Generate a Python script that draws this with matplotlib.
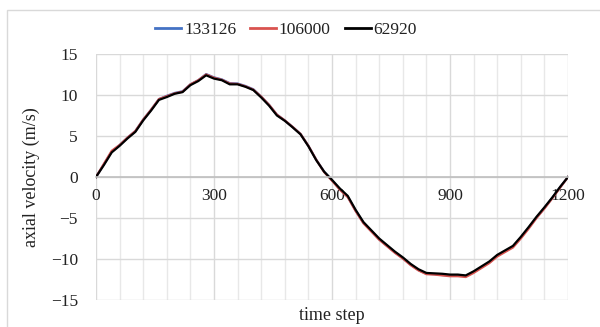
import matplotlib
matplotlib.use("Agg")
import matplotlib.pyplot as plt
from matplotlib.patches import Rectangle
from matplotlib.ticker import MultipleLocator

time_step = list(range(0, 1201, 20))

v_62920 = [0, 1.45, 3.0, 3.8, 4.7, 5.5, 6.9, 8.1, 9.4, 9.75,
           10.15, 10.35, 11.2, 11.7, 12.4, 12.0, 11.8, 11.3, 11.3, 11.0,
           10.6, 9.7, 8.7, 7.5, 6.85, 6.05, 5.2, 3.75, 2.05, 0.65,
           -0.35, -1.4, -2.3, -4.0, -5.5, -6.5, -7.5, -8.3, -9.1, -9.8,
           -10.6, -11.25, -11.7, -11.75, -11.8, -11.9, -11.9, -12.0, -11.5, -10.9,
           -10.3, -9.5, -8.95, -8.4, -7.3, -6.1, -4.85, -3.7, -2.5, -1.2, 0]

v_106000 = [0, 1.6, 3.2, 3.9, 4.8, 5.6, 7.0, 8.2, 9.5, 9.85,
            10.2, 10.4, 11.3, 11.8, 12.5, 12.1, 11.85, 11.4, 11.35, 11.05,
            10.65, 9.8, 8.8, 7.6, 6.9, 6.1, 5.25, 3.8, 2.1, 0.6,
            -0.45, -1.55, -2.45, -4.15, -5.65, -6.65, -7.65, -8.45, -9.25, -9.95,
            -10.75, -11.4, -11.85, -11.9, -12.0, -12.1, -12.1, -12.2, -11.7, -11.1,
            -10.5, -9.7, -9.15, -8.6, -7.5, -6.3, -5.0, -3.85, -2.6, -1.3, 0]

v_133126 = [0, 1.55, 3.1, 3.9, 4.8, 5.6, 7.0, 8.2, 9.5, 9.9,
            10.25, 10.45, 11.3, 11.8, 12.55, 12.15, 11.9, 11.45, 11.4, 11.1,
            10.7, 9.8, 8.8, 7.6, 6.9, 6.1, 5.25, 3.8, 2.1, 0.65,
            -0.4, -1.5, -2.4, -4.1, -5.6, -6.6, -7.6, -8.4, -9.2, -9.9,
            -10.7, -11.35, -11.8, -11.85, -11.95, -12.0, -12.0, -12.1, -11.6, -11.0,
            -10.4, -9.6, -9.05, -8.5, -7.4, -6.2, -4.95, -3.8, -2.55, -1.25, 0]

series_labels = ["133126", "106000", "62920"]
x_ticks = [0, 300, 600, 900, 1200]
y_ticks = [-15, -10, -5, 0, 5, 10, 15]

plt.rcParams['font.family'] = ['Liberation Serif', 'DejaVu Serif']

fig = plt.figure(figsize=(6.0, 3.27), dpi=100)
ax = fig.add_axes([96/600, 1-300/327, (568-96)/600, (300-54)/327])

fig.patches.append(Rectangle((7/600, -0.1), 1.2, 1-10/327+0.1, transform=fig.transFigure,
                             fill=False, edgecolor='#d9d9d9', linewidth=1.0))

colors = ['#4472C4', '#D9534F', '#000000']
for vals, lab, c in zip([v_133126, v_106000, v_62920], series_labels, colors):
    ax.plot(time_step, vals, color=c, lw=1.6, label=lab)

ax.set_xlim(0, 1200)
ax.set_ylim(-15, 15)
ax.set_xticks(x_ticks)
ax.set_yticks(y_ticks)
ax.xaxis.set_minor_locator(MultipleLocator(60))
ax.grid(True, which='major', color='#d9d9d9', lw=1.0)
ax.grid(True, which='minor', axis='x', color='#e8e8e8', lw=1.0)
ax.set_axisbelow(True)

for s in ['top', 'right', 'left']:
    ax.spines[s].set_visible(False)
ax.spines['bottom'].set_position(('data', 0))
ax.spines['bottom'].set_color('#bfbfbf')
ax.spines['bottom'].set_linewidth(1.2)

ax.tick_params(axis='both', which='both', length=0, labelsize=12.5, colors='#222222')
ax.tick_params(axis='y', pad=13)
ax.tick_params(axis='x', pad=8)

ax.set_ylabel("axial velocity (m/s)", fontsize=13, color='#222222')
ax.yaxis.set_label_coords(-0.118, 0.5)
fig.text(332/600, 1-315/327, "time step", ha='center', va='center', fontsize=13, color='#222222')

leg = fig.legend(loc='center', bbox_to_anchor=(286/600, 1-30/327), ncol=3, frameon=False,
                 fontsize=12.5, handlelength=1.5, handletextpad=0.15, columnspacing=0.8)
for line in leg.get_lines():
    line.set_linewidth(2.0)
for t in leg.get_texts():
    t.set_color('#222222')

fig.savefig("out.png", dpi=100)
